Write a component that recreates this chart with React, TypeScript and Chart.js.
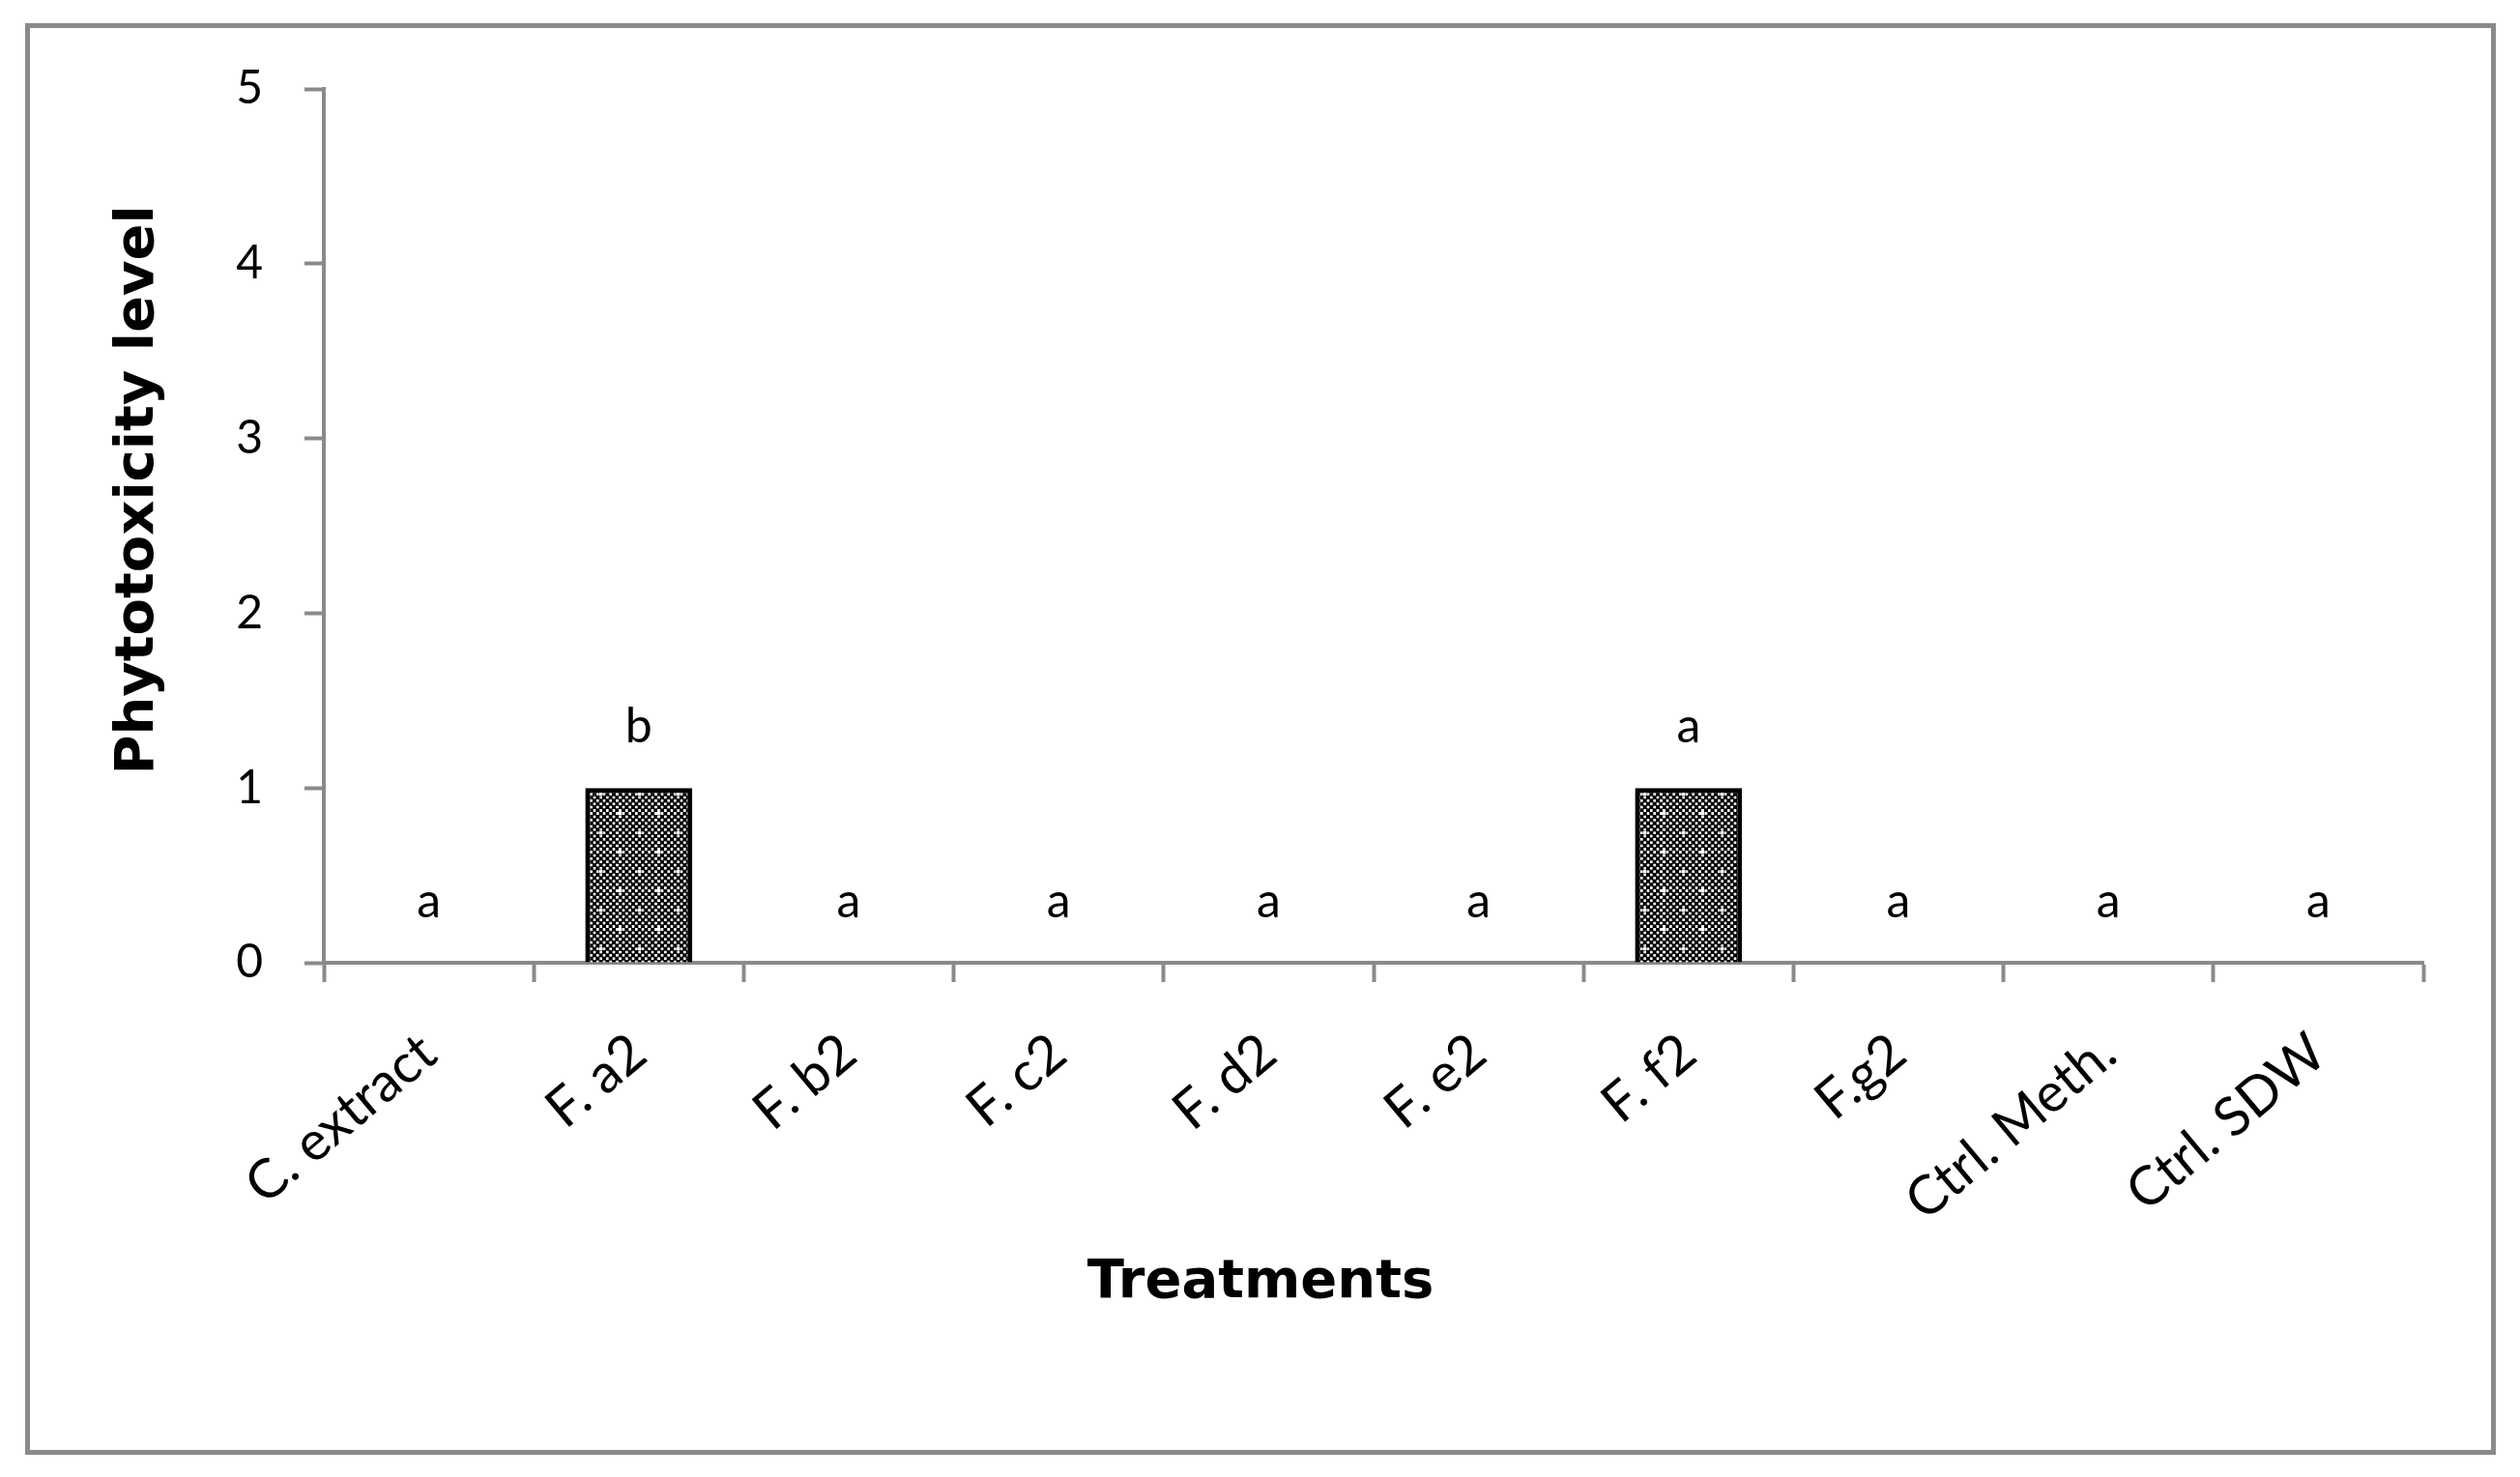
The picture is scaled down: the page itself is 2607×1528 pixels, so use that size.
import React, { useEffect, useRef } from "react";
import { Chart, registerables } from "chart.js";

Chart.register(...registerables);

const categories = ["C. extract", "F. a2", "F. b2", "F. c2", "F. d2", "F. e2", "F. f2", "F.g2", "Ctrl. Meth.", "Ctrl. SDW"];
const phytotoxicity = [0, 1, 0, 0, 0, 0, 1, 0, 0, 0];
const sigLetters = ["a", "b", "a", "a", "a", "a", "a", "a", "a", "a"];
const yMin = 0;
const yMax = 5;
const yStep = 1;
const xTitle = "Treatments";
const yTitle = "Phytotoxicity level";

const AXIS = "#8a8a8a";
const TICK_FONT = "Lato";
const TITLE_FONT = "'DejaVu Sans'";

function makePattern(): CanvasPattern | string {
  const n = 12;
  const size = 40;
  const cell = size / n;
  const grow = 0.35;
  const c = document.createElement("canvas");
  c.width = size;
  c.height = size;
  const g = c.getContext("2d");
  if (!g) return "#333";
  g.fillStyle = "#fff";
  g.fillRect(0, 0, size, size);
  g.fillStyle = "#000";
  for (let i = 0; i < n; i++) {
    for (let j = 0; j < n; j++) {
      if ((i + j) % 2 === 0) g.fillRect(i * cell - grow, j * cell - grow, cell + 2 * grow, cell + 2 * grow);
    }
  }
  // wrap-around edges of cells at the tile borders
  for (let k = 0; k < n; k++) {
    if ((n - 1 + k) % 2 === 0) {
      g.fillRect(size - grow, k * cell - grow, grow, cell + 2 * grow);
      g.fillRect(k * cell - grow, size - grow, cell + 2 * grow, grow);
    }
  }
  g.fillStyle = "#fff";
  g.fillRect(0, 0, cell, cell);
  g.fillRect(6 * cell, 6 * cell, cell, cell);
  const p = g.createPattern(c, "repeat");
  return p || "#333";
}

const letterPlugin = {
  id: "letters",
  afterDatasetsDraw(chart: any) {
    const ctx = chart.ctx;
    const meta = chart.getDatasetMeta(0);
    ctx.save();
    ctx.fillStyle = "#000";
    ctx.font = `50px ${TICK_FONT}`;
    ctx.textAlign = "center";
    ctx.textBaseline = "alphabetic";
    meta.data.forEach((el: any, i: number) => {
      ctx.fillText(sigLetters[i], el.x, el.y - 47);
    });
    ctx.restore();
  },
};

const decoPlugin = {
  id: "deco",
  afterDraw(chart: any) {
    const ctx = chart.ctx;
    ctx.save();
    ctx.fillStyle = "#000";
    ctx.font = `bold 56px ${TITLE_FONT}`;
    ctx.textAlign = "center";
    ctx.textBaseline = "middle";
    ctx.fillText(xTitle, 1304, 1327);
    ctx.translate(143, 507);
    ctx.rotate(-Math.PI / 2);
    ctx.fillText(yTitle, 0, 0);
    ctx.restore();
    ctx.save();
    ctx.strokeStyle = AXIS;
    ctx.lineWidth = 5;
    ctx.strokeRect(28.5, 26.5, 2551, 1476);
    ctx.restore();
  },
};

export default function App() {
  const ref = useRef<HTMLCanvasElement>(null);
  useEffect(() => {
    if (!ref.current) return;
    const chart = new Chart(ref.current, {
      type: "bar",
      data: {
        labels: categories,
        datasets: [
          {
            data: phytotoxicity,
            backgroundColor: makePattern() as any,
            borderColor: "#000",
            borderWidth: 5,
            categoryPercentage: 1,
            barPercentage: 0.51,
          },
        ],
      },
      options: {
        responsive: false,
        animation: false,
        devicePixelRatio: 1,
        layout: { padding: { left: 235, top: 92, right: 100, bottom: 0 } },
        plugins: { legend: { display: false }, tooltip: { enabled: false }, title: { display: false } },
        scales: {
          x: {
            afterFit: (s: any) => {
              s.height = 532;
            },
            grid: { drawOnChartArea: false, drawTicks: true, tickLength: 20, tickWidth: 4, tickColor: AXIS, color: AXIS, offset: true },
            border: { display: true, color: AXIS, width: 4 },
            ticks: { color: "#000", font: { family: TICK_FONT, size: 56 }, minRotation: 40, maxRotation: 40, padding: 40, autoSkip: false },
          },
          y: {
            min: yMin,
            max: yMax,
            afterFit: (s: any) => {
              s.width = 100;
            },
            grid: { drawOnChartArea: false, drawTicks: true, tickLength: 20, tickWidth: 4, tickColor: AXIS, color: AXIS },
            border: { display: true, color: AXIS, width: 4 },
            ticks: { stepSize: yStep, color: "#000", font: { family: TICK_FONT, size: 48 }, padding: 43 },
          },
        },
      },
      plugins: [letterPlugin, decoPlugin],
    });
    return () => chart.destroy();
  }, []);
  return (
    <div style={{ position: "fixed", left: 0, top: 0, width: 2607, height: 1528, background: "#fff" }}>
      <canvas ref={ref} width={2607} height={1528} style={{ display: "block" }} />
    </div>
  );
}
